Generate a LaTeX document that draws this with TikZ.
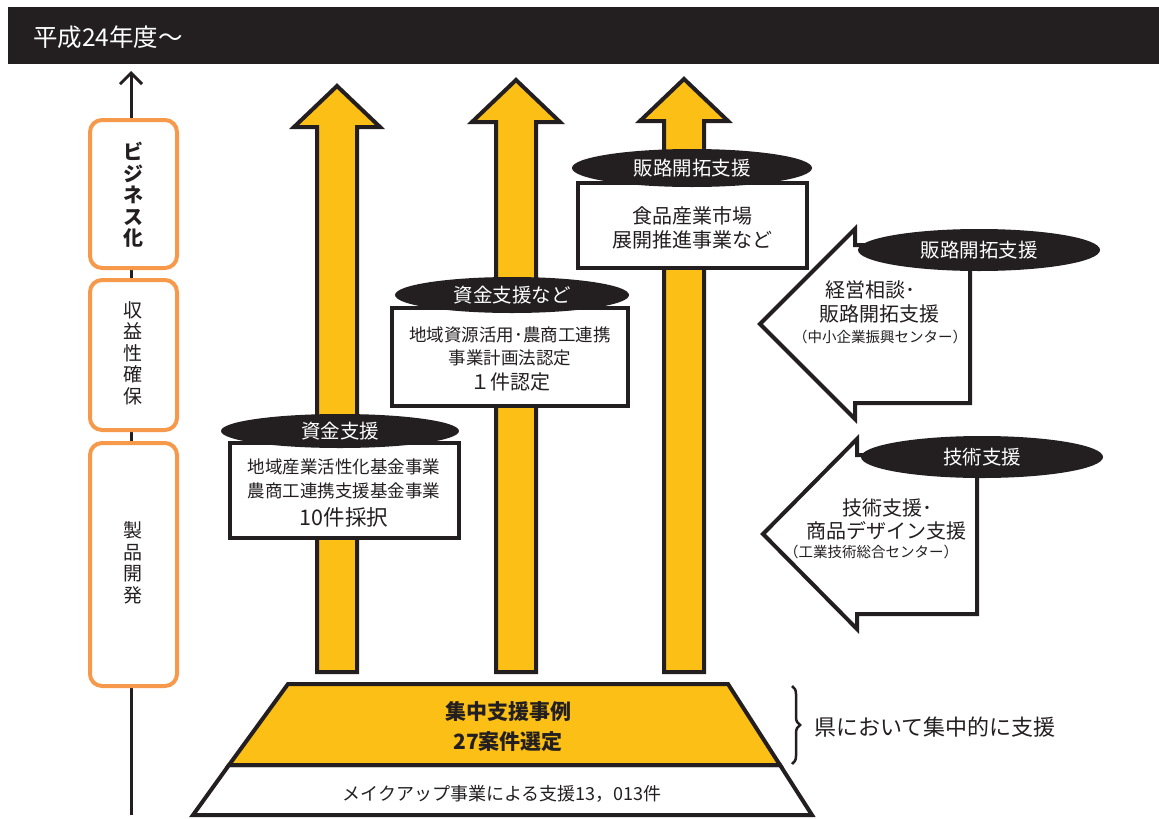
\documentclass[tikz,border=0pt]{standalone}
\usepackage{fontspec}
\setmainfont{Noto Sans CJK JP}
\usetikzlibrary{shapes.geometric,arrows.meta,decorations.pathreplacing}
\definecolor{ink}{HTML}{231F20}
\definecolor{gold}{HTML}{FBBF15}
\definecolor{orng}{HTML}{F7994A}
\begin{document}
\begin{tikzpicture}[x=1pt,y=-1pt,
  yarrow/.style={draw=ink,fill=gold,line width=4pt,line join=miter},
  larrow/.style={draw=ink,fill=white,line width=4pt,line join=miter},
  infobox/.style={draw=ink,fill=white,line width=4pt},
  tag/.style={ellipse,fill=ink,inner sep=0pt,text=white,font=\fontsize{19.5}{21}\selectfont},
  stagebox/.style={draw=orng,fill=white,line width=4pt,rounded corners=12pt},
  txt/.style={text=ink,inner sep=0pt,font=\fontsize{17.5}{19}\selectfont},
  bigtxt/.style={text=ink,inner sep=0pt,font=\fontsize{20}{22}\selectfont},
  smalltxt/.style={text=ink,inner sep=0pt,font=\fontsize{14.5}{16}\selectfont},
  vtxt/.style={text=ink,inner sep=0pt,align=center,font=\fontsize{19}{21.5}\selectfont}
]
\useasboundingbox (0,0) rectangle (1159,819);

% banner
\fill[ink] (8,7) rectangle (1159,64);
\node[anchor=west,text=white,inner sep=0pt,font=\fontsize{24.5}{26}\selectfont] (title) at (33,37) {平成24年度～};

% vertical axis
\coordinate (axbot) at (131,815);
\coordinate (axtop) at (131,71);
\draw[ink,line width=3pt,-{Straight Barb[length=11pt,width=22pt,line width=3pt]}] (axbot) -- (axtop);

% stage boxes
\draw[stagebox] (90,120) rectangle (177,268);
\draw[stagebox] (90,280) rectangle (177,430);
\draw[stagebox] (90,443) rectangle (177,686);
\node[vtxt,font=\fontsize{20}{21.5}\selectfont\bfseries] (s1) at (133,195) {ビ\\ジ\\ネ\\ス\\化};
\node[vtxt] (s2) at (133,353) {収\\益\\性\\確\\保};
\node[vtxt] (s3) at (133,563) {製\\品\\開\\発};

% yellow up arrows
\draw[yarrow] (317,672) -- (317,127) -- (294,127) -- (337,86) -- (380,127) -- (357,127) -- (357,672) -- cycle;
\draw[yarrow] (496,672) -- (496,122) -- (472,122) -- (516,80) -- (560,122) -- (536,122) -- (536,672) -- cycle;
\draw[yarrow] (664,672) -- (664,121) -- (640,121) -- (684,79) -- (728,121) -- (704,121) -- (704,672) -- cycle;

% pyramid
\draw[draw=ink,fill=white,line width=4pt,line join=miter] (229,765) -- (780,765) -- (812,815) -- (193,815) -- cycle;
\draw[draw=ink,fill=gold,line width=4pt,line join=miter] (288,684) -- (728,684) -- (780,765) -- (229,765) -- cycle;
\node[bigtxt,font=\fontsize{21}{22}\selectfont\bfseries] (p1) at (508,712) {集中支援事例};
\node[bigtxt,font=\fontsize{21}{22}\selectfont\bfseries] (p2) at (508,742) {27案件選定};
\node[txt,font=\fontsize{18}{19}\selectfont] (p3) at (502,794) {メイクアップ事業による支援13，013件};

% brace
\coordinate (bt) at (792,686);
\coordinate (bb) at (792,764);
\draw[ink,line width=2.5pt,decorate,decoration={brace,amplitude=8pt}] (bt) -- (bb);
\node[anchor=west,text=ink,inner sep=0pt,font=\fontsize{22}{24}\selectfont] (bl) at (814,727) {県において集中的に支援};

% box A
\draw[infobox] (230,443) rectangle (459,538);
\node[tag,minimum width=238pt,minimum height=34pt] (ta) at (340,431) {資金支援};
\node[txt] (a1) at (344,467) {地域産業活性化基金事業};
\node[txt] (a2) at (344,491) {農商工連携支援基金事業};
\node[bigtxt,font=\fontsize{21.5}{23}\selectfont] (a3) at (344,517) {10件採択};

% box B
\draw[infobox] (392,308) rectangle (628,406);
\node[tag,minimum width=234pt,minimum height=36pt] (tb) at (512,295) {資金支援など};
\node[txt] (b1) at (510,335) {地域資源活用･農商工連携};
\node[txt] (b2) at (510,358) {事業計画法認定};
\node[bigtxt] (b3) at (510,382) {１件認定};

% box C
\draw[infobox] (578,183) rectangle (807,268);
\node[tag,minimum width=240pt,minimum height=38pt] (tc) at (692,168) {販路開拓支援};
\node[bigtxt] (c1) at (692,216) {食品産業市場};
\node[bigtxt] (c2) at (692,240) {展開推進事業など};

% left arrow D
\draw[larrow] (760,324) -- (855,229) -- (855,245) -- (970,245) -- (970,403) -- (855,403) -- (855,419) -- cycle;
\node[tag,minimum width=242pt,minimum height=42pt] (td) at (979,250) {販路開拓支援};
\node[bigtxt] (d1) at (870,290) {経営相談･};
\node[bigtxt] (d2) at (879,314) {販路開拓支援};
\node[smalltxt] (d3) at (880,337) {（中小企業振興センター）};

% left arrow E
\draw[larrow] (763,534) -- (857,439) -- (857,455) -- (977,455) -- (977,614) -- (857,614) -- (857,629) -- cycle;
\node[tag,minimum width=242pt,minimum height=42pt] (te) at (982,457) {技術支援};
\node[bigtxt] (e1) at (887,508) {技術支援･};
\node[bigtxt] (e2) at (886,531) {商品デザイン支援};
\node[smalltxt] (e3) at (871,552) {（工業技術総合センター）};
\end{tikzpicture}
\end{document}
